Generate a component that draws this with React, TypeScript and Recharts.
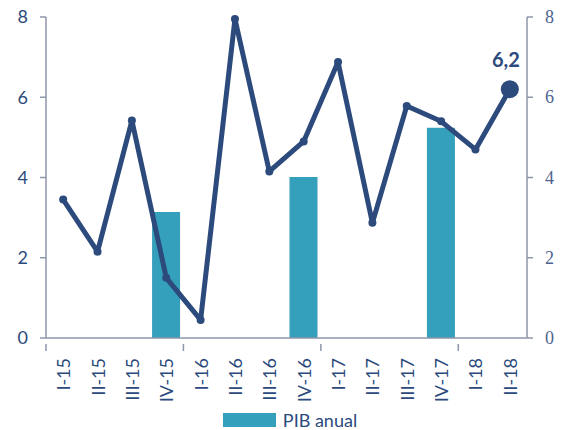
import React from 'react';
import { ComposedChart, Bar, Line, XAxis, YAxis, Legend, LabelList } from 'recharts';

const categories = ['I-15','II-15','III-15','IV-15','I-16','II-16','III-16','IV-16','I-17','II-17','III-17','IV-17','I-18','II-18'];
const lineValues = [3.45, 2.15, 5.42, 1.5, 0.45, 7.95, 4.15, 4.9, 6.88, 2.87, 5.78, 5.4, 4.7, 6.2];
const barValues: (number | null)[] = [null, null, null, 3.14, null, null, null, 4.01, null, null, null, 5.24, null, null];
const yTicks = [0, 2, 4, 6, 8];

const data = categories.map((c, i) => ({ cat: c, line: lineValues[i], bar: barValues[i] }));

const DARK = '#2c4a7c';
const TEAL = '#35a0bb';
const AXIS = '#8e96ab';
const FONT = 'Lato, "Open Sans", sans-serif';

const XTick = (props: any) => {
  const { x, y, payload, index } = props;
  const off = payload && payload.offset ? payload.offset : 17;
  const axisY = y - 14;
  return (
    <g>
      {index % 4 === 0 && (
        <line x1={x - off} x2={x - off} y1={axisY} y2={axisY + 7} stroke={AXIS} strokeWidth={1.5} />
      )}
      <text
        x={x}
        y={y}
        transform={`rotate(-90, ${x}, ${y})`}
        textAnchor="end"
        dominantBaseline="central"
        fill={DARK}
        fontSize={18}
        fontFamily={FONT}
      >
        {payload.value}
      </text>
    </g>
  );
};

const RightTick = (props: any) => {
  const { x, y, payload } = props;
  return (
    <text x={x} y={y} textAnchor="start" dominantBaseline="central" fill="#4d6590" fontSize={18} style={{ fontFamily: '"Liberation Serif", "DejaVu Serif", serif' }}>
      {payload.value}
    </text>
  );
};

const LineDot = (props: any) => {
  const { cx, cy, index } = props;
  if (cx == null || cy == null) return null;
  const last = index === categories.length - 1;
  return <circle key={index} cx={cx} cy={cy} r={last ? 9 : 4} fill={DARK} stroke="none" />;
};

const LastLabel = (props: any) => {
  const { x, y, value, index } = props;
  if (index !== categories.length - 1) return null;
  return (
    <text x={x - 4} y={y - 22} textAnchor="middle" fill={DARK} fontSize={20} fontWeight="bold" fontFamily={FONT}>
      {String(value).replace('.', ',')}
    </text>
  );
};

const LegendContent = () => (
  <div style={{ display: 'flex', justifyContent: 'center', alignItems: 'center', fontFamily: FONT, fontSize: 18, color: DARK, paddingLeft: 16, paddingTop: 7 }}>
    <span style={{ display: 'inline-block', width: 53, height: 14, background: TEAL, marginRight: 7 }} />
    <span>PIB anual</span>
  </div>
);

export default function App() {
  return (
    <div style={{ position: 'absolute', left: 0, top: 0, background: '#fff' }}>
      <ComposedChart width={564} height={430} data={data} margin={{ top: 17, right: 0, bottom: 0, left: 0 }} barCategoryGap={3}>
        <XAxis
          dataKey="cat"
          xAxisId="x"
          interval={0}
          height={64}
          tickLine={false}
          stroke={AXIS}
          strokeWidth={1.5}
          tick={<XTick />}
          tickMargin={14}
        />
        <YAxis
          yAxisId="left"
          orientation="left"
          domain={[0, 8]}
          ticks={yTicks}
          width={46}
          stroke={AXIS}
          strokeWidth={1.5}
          tickSize={6}
          tickMargin={12}
          tick={{ fill: DARK, fontSize: 18, fontFamily: FONT }}
        />
        <YAxis
          yAxisId="right"
          orientation="right"
          domain={[0, 8]}
          ticks={yTicks}
          width={37}
          stroke={AXIS}
          strokeWidth={1.5}
          tickSize={6}
          tickMargin={12}
          tick={<RightTick />}
        />
        <Legend verticalAlign="bottom" height={28} content={<LegendContent />} />
        <Bar dataKey="bar" xAxisId="x" yAxisId="left" fill={TEAL} isAnimationActive={false} name="PIB anual" />
        <Line
          dataKey="line"
          xAxisId="x"
          yAxisId="right"
          stroke="none"
          strokeWidth={0}
          dot={false}
          activeDot={false}
          isAnimationActive={false}
          legendType="none"
        />
        <Line
          dataKey="line"
          xAxisId="x"
          yAxisId="left"
          stroke={DARK}
          strokeWidth={5}
          strokeLinejoin="round"
          strokeLinecap="round"
          dot={<LineDot />}
          activeDot={false}
          isAnimationActive={false}
          legendType="none"
        >
          <LabelList dataKey="line" content={<LastLabel />} />
        </Line>
      </ComposedChart>
    </div>
  );
}
